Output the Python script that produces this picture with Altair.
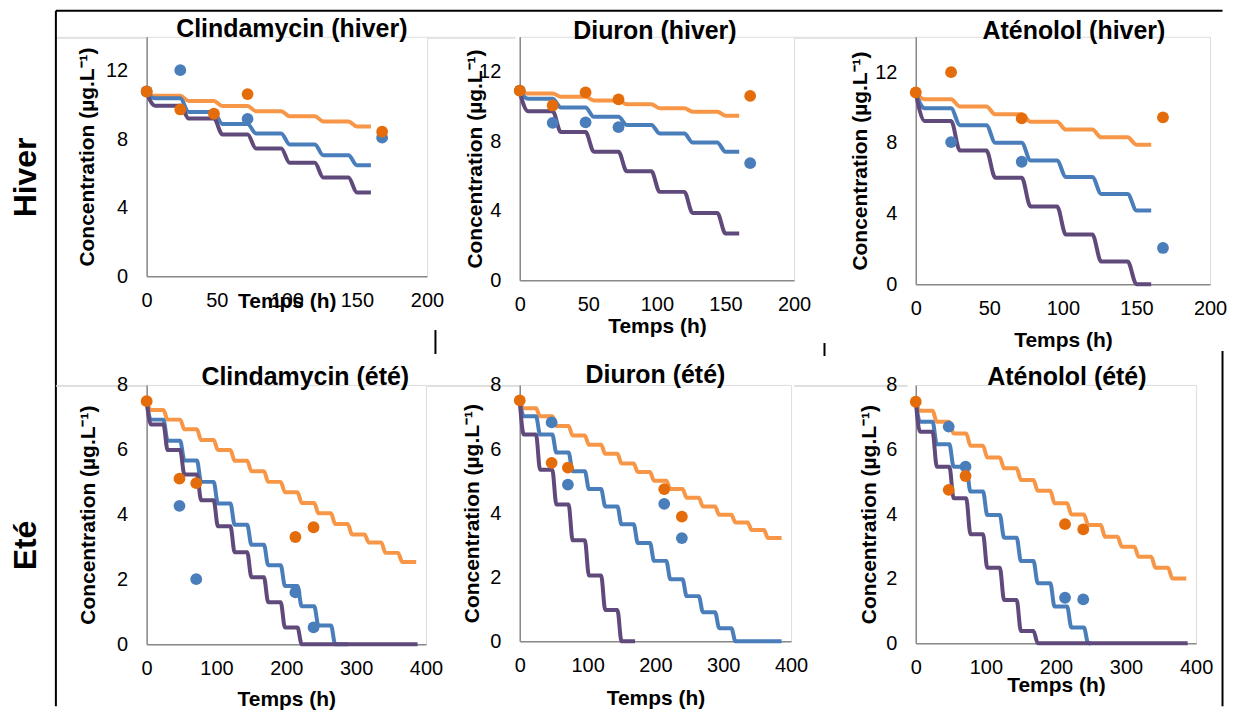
import altair as alt
import pandas as pd

FONT = "Liberation Sans"
ORANGE_LINE = "#F79646"
BLUE = "#4A7EBB"
PURPLE = "#604A7B"
ORANGE_DOT = "#E46C0A"

# daily dosing steps (h)
WINTER_STEPS_H = [0, 24, 48, 72, 96, 120, 144]
SUMMER_STEPS_H = [0, 24, 48, 72, 96, 120, 144, 168, 192, 216, 240, 264, 288, 312, 336, 360]
DROP_H = 6

# ---------- Clindamycin (hiver) ----------
clin_h_c0 = 10.7
clin_h_orange = [10.55, 10.25, 9.95, 9.65, 9.35, 9.05, 8.75]
clin_h_blue = [10.4, 9.6, 8.9, 8.35, 7.7, 7.07, 6.49]
clin_h_purple = [9.97, 9.22, 8.29, 7.47, 6.63, 5.77, 4.9]
clin_h_ends = [160, 160, 160]
clin_h_obs_orange_t = [0, 24, 48, 72, 168]
clin_h_obs_orange_c = [10.8, 9.75, 9.5, 10.65, 8.45]
clin_h_obs_blue_t = [0, 24, 72, 168]
clin_h_obs_blue_c = [10.8, 12.05, 9.2, 8.1]

# ---------- Diuron (hiver) ----------
diu_h_c0 = 10.8
diu_h_orange = [10.74, 10.55, 10.34, 10.12, 9.89, 9.69, 9.46]
diu_h_blue = [10.44, 9.93, 9.4, 8.93, 8.44, 7.92, 7.39]
diu_h_purple = [9.72, 8.52, 7.39, 6.26, 5.08, 3.87, 2.69]
diu_h_ends = [160, 160, 160]
diu_h_obs_orange_t = [0, 24, 48, 72, 168]
diu_h_obs_orange_c = [10.9, 10.05, 10.8, 10.4, 10.6]
diu_h_obs_blue_t = [0, 24, 48, 72, 168]
diu_h_obs_blue_c = [10.9, 9.05, 9.08, 8.8, 6.73]

# ---------- Aténolol (hiver) ----------
ate_h_c0 = 10.8
ate_h_orange = [10.47, 10.05, 9.61, 9.19, 8.75, 8.31, 7.89]
ate_h_blue = [9.95, 9.0, 8.0, 7.0, 6.07, 5.11, 4.17]
ate_h_purple = [9.24, 7.56, 6.03, 4.4, 2.81, 1.28, 0.0]
ate_h_ends = [160, 160, 160]
ate_h_obs_orange_t = [0, 24, 72, 168]
ate_h_obs_orange_c = [10.85, 12.0, 9.38, 9.44]
ate_h_obs_blue_t = [24, 72, 168]
ate_h_obs_blue_c = [8.04, 6.93, 2.05]

# ---------- Clindamycin (été) ----------
clin_e_c0 = 7.5
clin_e_orange = [7.23, 6.93, 6.63, 6.3, 5.99, 5.66, 5.34, 5.01, 4.69, 4.36, 4.04, 3.71, 3.39, 3.14, 2.82, 2.54]
clin_e_blue = [6.93, 6.28, 5.67, 5.01, 4.34, 3.69, 3.07, 2.44, 1.8, 1.17, 0.58, 0.0]
clin_e_purple = [6.78, 5.99, 5.24, 4.44, 3.64, 2.84, 2.07, 1.3, 0.52, 0.0]
clin_e_ends = [386, 288, 388]
clin_e_obs_orange_t = [0, 47, 71, 213, 239]
clin_e_obs_orange_c = [7.5, 5.11, 4.97, 3.31, 3.61]
clin_e_obs_blue_t = [47, 71, 213, 239]
clin_e_obs_blue_c = [4.27, 2.01, 1.6, 0.52]

# ---------- Diuron (été) ----------
diu_e_c0 = 7.5
diu_e_orange = [7.27, 7.02, 6.72, 6.42, 6.13, 5.85, 5.55, 5.28, 5.01, 4.75, 4.48, 4.21, 3.95, 3.71, 3.47, 3.22]
diu_e_blue = [7.02, 6.45, 5.89, 5.31, 4.75, 4.21, 3.65, 3.07, 2.51, 1.94, 1.41, 0.91, 0.41, 0.0]
diu_e_purple = [6.45, 5.35, 4.27, 3.15, 2.05, 0.98, 0.0]
diu_e_ends = [386, 386, 170]
diu_e_obs_orange_t = [0, 47, 71, 213, 239]
diu_e_obs_orange_c = [7.52, 5.57, 5.42, 4.75, 3.89]
diu_e_obs_blue_t = [47, 71, 213, 239]
diu_e_obs_blue_c = [6.83, 4.89, 4.29, 3.22]

# ---------- Aténolol (été) ----------
ate_e_c0 = 7.5
ate_e_orange = [7.2, 6.86, 6.5, 6.12, 5.75, 5.42, 5.06, 4.72, 4.34, 3.99, 3.66, 3.3, 2.99, 2.68, 2.34, 2.01]
ate_e_blue = [6.86, 6.16, 5.47, 4.7, 3.97, 3.27, 2.55, 1.86, 1.14, 0.49, 0.0]
ate_e_purple = [6.55, 5.47, 4.49, 3.38, 2.34, 1.34, 0.38, 0.0]
ate_e_ends = [386, 250, 388]
ate_e_obs_orange_t = [0, 47, 71, 213, 239]
ate_e_obs_orange_c = [7.48, 4.75, 5.18, 3.69, 3.53]
ate_e_obs_blue_t = [47, 71, 213, 239]
ate_e_obs_blue_c = [6.71, 5.47, 1.41, 1.36]

WINTER_X_TICKS = [0, 50, 100, 150, 200]
WINTER_Y_TICKS = [0, 4, 8, 12]
SUMMER_X_TICKS = [0, 100, 200, 300, 400]
SUMMER_Y_TICKS = [0, 2, 4, 6, 8]


def step_frame(c0, levels, steps, end):
    ts, cs = [0], [c0]
    for k, lv in enumerate(levels):
        if k > 0:
            ts.append(steps[k])
            cs.append(levels[k - 1])
        ts.append(steps[k] + DROP_H)
        cs.append(lv)
    ts.append(end)
    cs.append(levels[-1])
    return pd.DataFrame({"t": ts, "c": cs})


def panel(title, dx, toff, winter, c0, orange, blue, purple, ends,
          ot, oc, bt, bc, width, height, ytp, xtp):
    steps = WINTER_STEPS_H if winter else SUMMER_STEPS_H
    xdom = [0, 200] if winter else [0, 400]
    ydom = [0, 14] if winter else [0, 8]
    xt = WINTER_X_TICKS if winter else SUMMER_X_TICKS
    yt = WINTER_Y_TICKS if winter else SUMMER_Y_TICKS
    common = dict(ticks=False, grid=False, domainColor="#898989", domainWidth=1.5,
                  labelFont=FONT, labelFontSize=20, labelColor="black",
                  labelFlush=False, labelOverlap=False,
                  titleFont=FONT, titleFontSize=21, titleFontWeight="bold",
                  titleColor="black", format="d")
    xenc = alt.X("t:Q", scale=alt.Scale(domain=xdom, nice=False),
                 axis=alt.Axis(values=xt, title="Temps (h)", labelPadding=14,
                               titlePadding=xtp, **common))
    yenc = alt.Y("c:Q", scale=alt.Scale(domain=ydom, nice=False),
                 axis=alt.Axis(values=yt, title="Concentration (µg.L⁻¹)",
                               labelPadding=19, titlePadding=ytp, **common))
    layers = []
    for lv, end, col in [(orange, ends[0], ORANGE_LINE), (blue, ends[1], BLUE),
                         (purple, ends[2], PURPLE)]:
        layers.append(
            alt.Chart(step_frame(c0, lv, steps, end))
            .mark_line(interpolate="monotone", color=col, strokeWidth=4)
            .encode(x=xenc, y=yenc)
        )
    layers.append(
        alt.Chart(pd.DataFrame({"t": bt, "c": bc}))
        .mark_circle(size=140, opacity=1, color=BLUE)
        .encode(x=xenc, y=yenc)
    )
    layers.append(
        alt.Chart(pd.DataFrame({"t": ot, "c": oc}))
        .mark_circle(size=140, opacity=1, color=ORANGE_DOT)
        .encode(x=xenc, y=yenc)
    )
    return alt.layer(*layers).properties(
        width=width, height=height,
        title=alt.TitleParams(title, font=FONT, fontSize=25, fontWeight="bold",
                              color="black", anchor="middle", frame="group",
                              dx=dx, offset=toff),
    )


def spacer(w):
    return (alt.Chart(pd.DataFrame({"k": [0]}))
            .mark_point(opacity=0)
            .encode(x=alt.value(0), y=alt.value(0))
            .properties(width=w, height=1))


one = pd.DataFrame({"k": [0]})


def hrule(x, x2, y):
    return alt.Chart(one).mark_rule(color="black", strokeWidth=2).encode(
        x=alt.value(x), x2=alt.value(x2), y=alt.value(y))


def vrule(x, y, y2):
    return alt.Chart(one).mark_rule(color="black", strokeWidth=2).encode(
        x=alt.value(x), y=alt.value(y), y2=alt.value(y2))


def row_label(text, x, y):
    return alt.Chart(one).mark_text(
        angle=270, font=FONT, fontSize=32, fontWeight="bold", color="black",
        align="center", baseline="middle").encode(
        x=alt.value(x), y=alt.value(y), text=alt.value(text))


deco = alt.layer(
    hrule(0, 1169.5, -26),
    vrule(0, -26, 671),
    vrule(1169.5, 315, 671),
    vrule(380.5, 294, 318),
    vrule(770.5, 307, 320),
    row_label("Hiver", -29.5, 141),
    row_label("Eté", -29.5, 510),
).properties(width=91, height=1)

p1 = panel("Clindamycin (hiver)", 5, -5, True, clin_h_c0, clin_h_orange, clin_h_blue,
           clin_h_purple, clin_h_ends, clin_h_obs_orange_t, clin_h_obs_orange_c,
           clin_h_obs_blue_t, clin_h_obs_blue_c, 281, 240, 8.5, -20)
p2 = panel("Diuron (hiver)", -2, -7, True, diu_h_c0, diu_h_orange, diu_h_blue,
           diu_h_purple, diu_h_ends, diu_h_obs_orange_t, diu_h_obs_orange_c,
           diu_h_obs_blue_t, diu_h_obs_blue_c, 275, 244, -6.5, 1)
p3 = panel("Aténolol (hiver)", 11, -7, True, ate_h_c0, ate_h_orange, ate_h_blue,
           ate_h_purple, ate_h_ends, ate_h_obs_orange_t, ate_h_obs_orange_c,
           ate_h_obs_blue_t, ate_h_obs_blue_c, 295, 248, 4.5, 11)
p4 = panel("Clindamycin (été)", 19, -15, False, clin_e_c0, clin_e_orange, clin_e_blue,
           clin_e_purple, clin_e_ends, clin_e_obs_orange_t, clin_e_obs_orange_c,
           clin_e_obs_blue_t, clin_e_obs_blue_c, 280, 260, 18.5, 10)
p5 = panel("Diuron (été)", 0, -13, False, diu_e_c0, diu_e_orange, diu_e_blue,
           diu_e_purple, diu_e_ends, diu_e_obs_orange_t, diu_e_obs_orange_c,
           diu_e_obs_blue_t, diu_e_obs_blue_c, 272, 257, 7.5, 12)
p6 = panel("Aténolol (été)", 11, -15, False, ate_e_c0, ate_e_orange, ate_e_blue,
           ate_e_purple, ate_e_ends, ate_e_obs_orange_t, ate_e_obs_orange_c,
           ate_e_obs_blue_t, ate_e_obs_blue_c, 281, 259, 6.5, -3)

chart = alt.ConcatChart(
    concat=[deco, p1, spacer(88), p2, spacer(122), p3,
            spacer(91), p4, spacer(93), p5, spacer(113), p6],
    columns=6,
    spacing={"row": 101, "column": 0},
    align={"row": "each", "column": "none"},
    bounds="flush",
).properties(
    padding={"left": 2, "top": 0, "right": 0, "bottom": 0}
).configure_view(stroke="transparent").configure(background="white")

chart.save("out.html", embed_options={"renderer": "svg", "actions": False})
